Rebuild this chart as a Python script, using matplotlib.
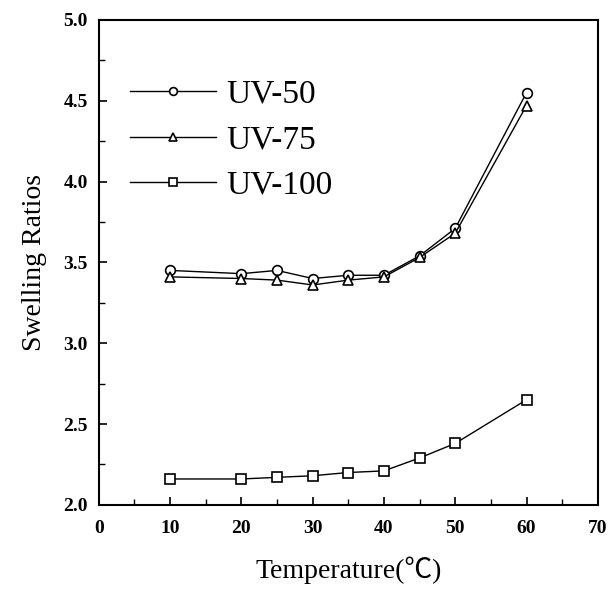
import matplotlib
matplotlib.use("Agg")
import matplotlib.pyplot as plt
from matplotlib.ticker import MultipleLocator, FormatStrFormatter

plt.rcParams['font.family'] = ['Liberation Serif', 'DejaVu Serif']

# data
temps = [10, 20, 25, 30, 35, 40, 45, 50, 60]
uv50 = [3.45, 3.43, 3.45, 3.40, 3.42, 3.42, 3.54, 3.71, 4.55]
uv75 = [3.41, 3.40, 3.39, 3.36, 3.39, 3.41, 3.53, 3.68, 4.47]
uv100 = [2.16, 2.16, 2.17, 2.18, 2.20, 2.21, 2.29, 2.38, 2.65]
labels = ["UV-50", "UV-75", "UV-100"]

fig = plt.figure(figsize=(6.1, 6.01), dpi=100)
ax = fig.add_axes([0.162, 0.160, 0.818, 0.807])

mk = dict(color='black', lw=1.0, markersize=7, markerfacecolor='white',
          markeredgewidth=1.2)
ax.plot(temps, uv50, marker='o', label=labels[0], **mk)
ax.plot(temps, uv75, marker='^', label=labels[1], **mk)
ax.plot(temps, uv100, marker='s', label=labels[2], **mk)

ax.set_xlim(0, 70)
ax.set_ylim(2.0, 5.0)
ax.xaxis.set_major_locator(MultipleLocator(10))
ax.xaxis.set_minor_locator(MultipleLocator(5))
ax.yaxis.set_major_locator(MultipleLocator(0.5))
ax.yaxis.set_minor_locator(MultipleLocator(0.25))
ax.yaxis.set_major_formatter(FormatStrFormatter('%.1f'))
ax.tick_params(which='major', direction='in', length=6, width=1.2, labelsize=14, pad=8)
ax.tick_params(axis='x', which='major', pad=11)
ax.tick_params(which='minor', direction='in', length=4, width=1.0)
for t in ax.get_xticklabels() + ax.get_yticklabels():
    t.set_fontweight('bold')
for s in ax.spines.values():
    s.set_linewidth(1.5)

ax.set_ylabel("Swelling Ratios", fontsize=20, labelpad=12)
ax.set_xlabel("Temperature(℃)", fontsize=20, labelpad=14,
              family=['Liberation Serif', 'Noto Sans CJK SC'])

leg = ax.legend(loc='upper left', bbox_to_anchor=(0.035, 0.905), frameon=False,
                fontsize=24, handlelength=2.6, handletextpad=0.3,
                labelspacing=0.45, borderaxespad=0, markerscale=0.8)

fig.savefig("out.png", dpi=100)
